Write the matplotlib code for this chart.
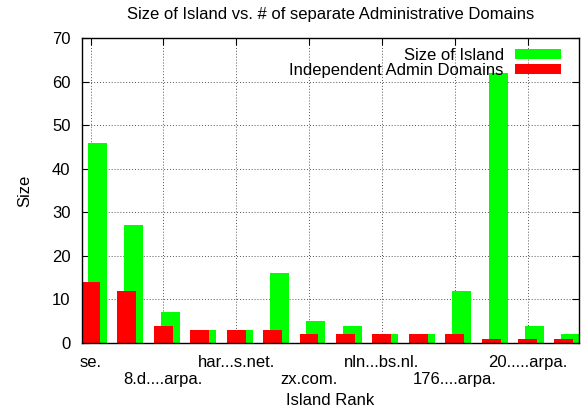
import matplotlib
matplotlib.use("Agg")
from matplotlib import pyplot as plt
from matplotlib import transforms
import numpy as np

# island ranks 0..13, labels only on even ranks
ranks = np.arange(14)
island_size = [46, 27, 7, 3, 3, 16, 5, 4, 2, 2, 12, 62, 4, 2]
admin_domains = [14, 12, 4, 3, 3, 3, 2, 2, 2, 2, 2, 1, 1, 1]
tick_ranks = [0, 2, 4, 6, 8, 10, 12]
tick_labels = ["se.", "8.d....arpa.", "har...s.net.", "zx.com.",
               "nln...bs.nl.", "176....arpa.", "20.....arpa."]

plt.rcParams['font.family'] = ['Liberation Sans', 'DejaVu Sans']
plt.rcParams['font.size'] = 12

fig = plt.figure(figsize=(5.81, 4.13), dpi=100)
ax = fig.add_axes([0.1403, 0.1695, 0.8567, 0.7385])

w = 0.52
ax.bar(ranks + 0.19, island_size, w, color='#00ff00', label='Size of Island', zorder=2)
ax.bar(ranks, admin_domains, w, color='#ff0000', label='Independent Admin Domains', zorder=3)

ax.set_xlim(-0.247, 13.42)
ax.set_ylim(0, 70)
ax.set_yticks(range(0, 71, 10))
ax.set_xticks(tick_ranks)
ax.set_xticklabels(tick_labels)

ax.tick_params(direction='in', top=True, right=True, length=5, width=0.8)
ax.tick_params(axis='y', pad=8)
ax.tick_params(axis='x', pad=9)

# every other label one row lower
shift = transforms.ScaledTranslation(0, -17 / 100, fig.dpi_scale_trans)
for i, lab in enumerate(ax.get_xticklabels()):
    if i % 2 == 1:
        lab.set_transform(lab.get_transform() + shift)

ax.grid(True, color='#555555', linestyle=(0, (1, 2)), linewidth=0.7, zorder=0)
ax.set_axisbelow(True)
for s in ax.spines.values():
    s.set_linewidth(1.0)
    s.set_zorder(4)

ax.set_title("Size of Island vs. # of separate Administrative Domains",
             fontsize=12, pad=14)
ax.set_xlabel("Island Rank", va='center')
ax.xaxis.set_label_coords(0.5, -0.187)
ax.set_ylabel("Size", labelpad=14)

ax.legend(loc='upper right', bbox_to_anchor=(1 - 8 / 498, 1),
          frameon=False, markerfirst=False,
          handlelength=2.8, handleheight=0.55, handletextpad=0.65,
          labelspacing=0.0, borderaxespad=0.3, alignment='right',
          borderpad=0.3)

plt.savefig('out.png', dpi=100)
